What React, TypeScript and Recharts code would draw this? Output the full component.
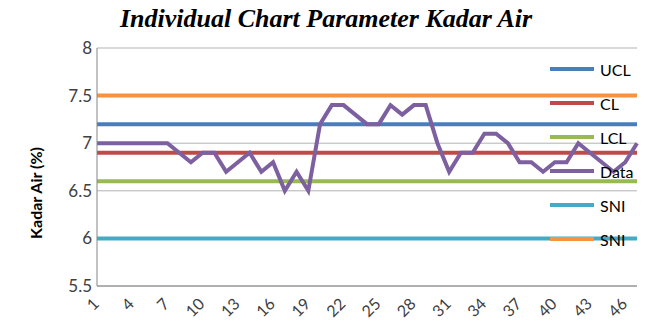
import React from "react";
import {
  LineChart,
  Line,
  XAxis,
  YAxis,
  CartesianGrid,
  ReferenceLine,
  Label,
} from "recharts";

const samples = [
  1, 2, 3, 4, 5, 6, 7, 8, 9, 10, 11, 12, 13, 14, 15, 16, 17, 18, 19, 20, 21, 22, 23, 24,
  25, 26, 27, 28, 29, 30, 31, 32, 33, 34, 35, 36, 37, 38, 39, 40, 41, 42, 43, 44, 45, 46, 47,
];
const kadarAir = [
  7.0, 7.0, 7.0, 7.0, 7.0, 7.0, 7.0, 6.9, 6.8, 6.9, 6.9, 6.7, 6.8, 6.9, 6.7, 6.8, 6.5, 6.7,
  6.5, 7.2, 7.4, 7.4, 7.3, 7.2, 7.2, 7.4, 7.3, 7.4, 7.4, 7.0, 6.7, 6.9, 6.9, 7.1, 7.1, 7.0,
  6.8, 6.8, 6.7, 6.8, 6.8, 7.0, 6.9, 6.8, 6.7, 6.8, 7.0,
];
const xTicks = [1, 4, 7, 10, 13, 16, 19, 22, 25, 28, 31, 34, 37, 40, 43, 46];
const yTicks = [5.5, 6, 6.5, 7, 7.5, 8];

// control limits and standards
const UCL = 7.2;
const CL = 6.9;
const LCL = 6.6;
const SNI_MIN = 6;
const SNI_MAX = 7.5;

const legendItems = [
  { name: "UCL", color: "#4a7ebb" },
  { name: "CL", color: "#be4b48" },
  { name: "LCL", color: "#98b954" },
  { name: "Data", color: "#7d60a0" },
  { name: "SNI", color: "#46aac5" },
  { name: "SNI", color: "#f69240" },
];

const data = samples.map((n, i) => ({ n, value: kadarAir[i] }));

const FONT = "Lato, 'Open Sans', sans-serif";

function XTick(props: any) {
  const x = Number(props.x);
  const y = Number(props.y);
  return (
    <g transform={`translate(${x - 1},${y + 7}) rotate(-45)`}>
      <text
        x={0}
        y={0}
        textAnchor="end"
        dy="0.35em"
        fill="#404040"
        fontSize={16}
        fontFamily={FONT}
      >
        {props.payload?.value}
      </text>
    </g>
  );
}

function YLabel(props: any) {
  const vb = props.viewBox || { x: 0, y: 48, width: 97, height: 238 };
  const cx = Number(vb.x) + 38;
  const cy = Number(vb.y) + Number(vb.height) / 2 + 26;
  return (
    <text
      x={cx}
      y={cy}
      transform={`rotate(-90 ${cx} ${cy})`}
      textAnchor="middle"
      dominantBaseline="middle"
      fontSize={16}
      fontWeight="bold"
      fontFamily={FONT}
      fill="#000"
    >
      Kadar Air (%)
    </text>
  );
}

export default function App() {
  return (
    <div style={{ position: "absolute", left: 0, top: 0, width: 646, height: 322, background: "#fff" }}>
      <div
        style={{
          position: "absolute",
          left: 0,
          top: 4,
          width: 652,
          textAlign: "center",
          fontFamily: "'Liberation Serif', serif",
          fontWeight: "bold",
          fontStyle: "italic",
          fontSize: 26,
          lineHeight: "30px",
          color: "#000",
        }}
      >
        Individual Chart Parameter Kadar Air
      </div>
      <LineChart
        width={646}
        height={322}
        data={data}
        margin={{ top: 48, right: 9, bottom: 0, left: 0 }}
      >
        <CartesianGrid vertical={false} stroke="#b3b3b3" strokeWidth={1} />
        <XAxis
          dataKey="n"
          type="category"
          ticks={xTicks}
          interval={0}
          height={36}
          stroke="#868686"
          tickLine={false}
          tick={<XTick />}
        />
        <YAxis
          type="number"
          domain={[5.5, 8]}
          ticks={yTicks}
          width={97}
          stroke="#868686"
          tickLine={false}
          tickSize={3}
          tickMargin={2}
          tick={{ fill: "#404040", fontSize: 17, fontFamily: FONT }}
          tickFormatter={(v: number) => String(v)}
        >
          <Label content={<YLabel />} />
        </YAxis>
        <ReferenceLine y={UCL} stroke={legendItems[0].color} strokeWidth={4} />
        <ReferenceLine y={CL} stroke={legendItems[1].color} strokeWidth={4} />
        <ReferenceLine y={LCL} stroke={legendItems[2].color} strokeWidth={4} />
        <Line
          type="linear"
          dataKey="value"
          stroke={legendItems[3].color}
          strokeWidth={4}
          dot={false}
          isAnimationActive={false}
        />
        <ReferenceLine y={SNI_MIN} stroke={legendItems[4].color} strokeWidth={4} />
        <ReferenceLine y={SNI_MAX} stroke={legendItems[5].color} strokeWidth={4} />
      </LineChart>
      <div style={{ position: "absolute", left: 550, top: 52 }}>
        {legendItems.map((it, i) => (
          <div
            key={i}
            style={{ display: "flex", alignItems: "center", height: 34, fontFamily: FONT, fontSize: 16, color: "#000" }}
          >
            <div style={{ width: 44, height: 4, background: it.color, marginRight: 6 }} />
            <span>{it.name}</span>
          </div>
        ))}
      </div>
    </div>
  );
}
